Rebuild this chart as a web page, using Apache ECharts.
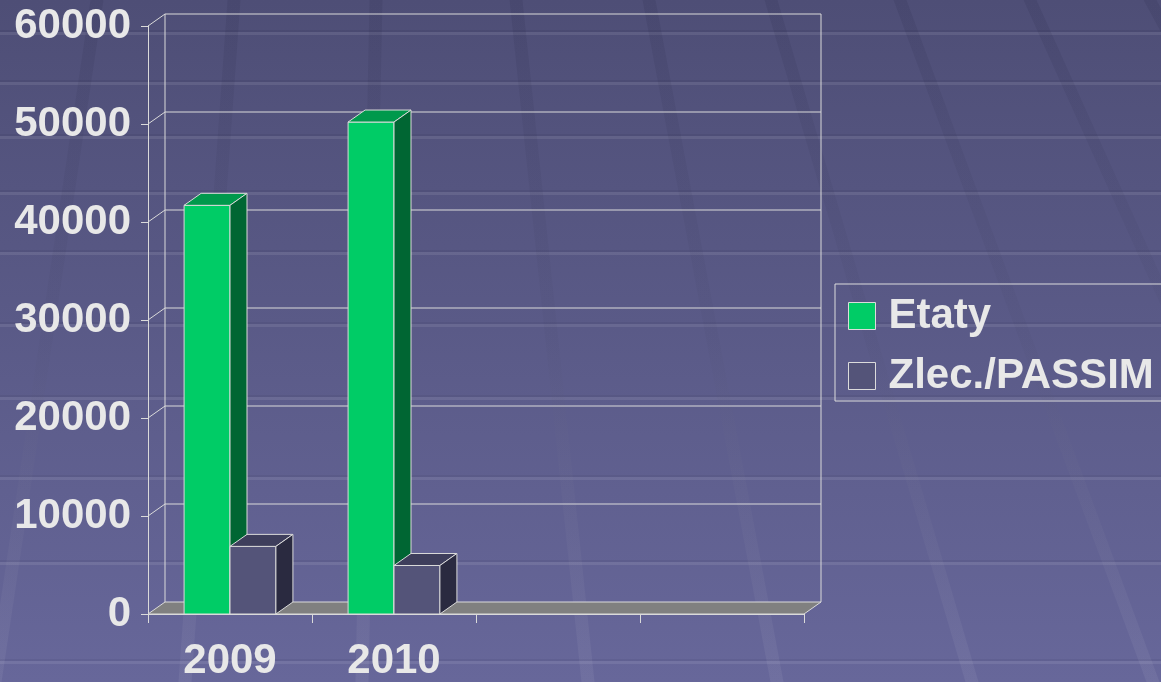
<!DOCTYPE html>
<html>
<head>
<meta charset="utf-8">
<script src="https://cdn.jsdelivr.net/npm/echarts@6/dist/echarts.min.js"></script>
<style>
  html, body { margin: 0; padding: 0; }
  #chart { width: 1161px; height: 682px; }
</style>
</head>
<body>
<div id="chart"></div>
<script>
// ---- data ----
var CATEGORIES = ['2009', '2010', '', ''];
var SERIES_NAMES = ['Etaty', 'Zlec./PASSIM'];
var ETATY = [41700, 50200];
var ZLEC = [6900, 4950];
var Y_MIN = 0, Y_MAX = 60000, Y_INTERVAL = 10000;

// ---- style constants ----
var FONT = "'Liberation Sans', Arial, sans-serif";
var TEXT_COLOR = '#e8e8e8';
var EDGE = '#dadada';
var DX = 17, DY = -12;         // depth offset of the 3D box
var BAR_FRAC = 0.28;           // bar width as a share of the category band
var ETATY_COLORS = { front: '#00cc66', top: '#00994c', side: '#006633' };
var ZLEC_COLORS = { front: '#545479', top: '#3e3e5c', side: '#2a2a40' };

// background decoration (template look)
var STRIPES = [33, 83, 137, 193, 253, 325, 398, 478, 563, 662];
var BANDS = [[97, -5], [234, 185], [376, 362], [516, 588], [649, 777], [771, 972], [900, 1153], [1030, 1337], [1150, 1520]];

var chart = echarts.init(document.getElementById('chart'), null, { renderer: 'canvas' });

function barRenderer(shift, colors) {
  return function (params, api) {
    var cat = api.value(0), val = api.value(1);
    var top = api.coord([cat, val]);
    var base = api.coord([cat, Y_MIN]);
    var bw = api.size([1, 0])[0];
    var w = bw * BAR_FRAC;
    var x0 = top[0] + shift * w;
    var x1 = x0 + w;
    var yT = top[1], yB = base[1];
    var st = function (fill) { return { fill: fill, stroke: EDGE, lineWidth: 1 }; };
    return {
      type: 'group',
      children: [
        { type: 'polygon', shape: { points: [[x0, yB], [x1, yB], [x1, yT], [x0, yT]] }, style: st(colors.front) },
        { type: 'polygon', shape: { points: [[x0, yT], [x1, yT], [x1 + DX, yT + DY], [x0 + DX, yT + DY]] }, style: st(colors.top) },
        { type: 'polygon', shape: { points: [[x1, yB], [x1 + DX, yB + DY], [x1 + DX, yT + DY], [x1, yT]] }, style: st(colors.side) }
      ]
    };
  };
}

function frameRenderer(params, api) {
  var cs = params.coordSys;
  var left = cs.x, right = cs.x + cs.width;
  var children = [];
  var y0 = api.coord([0, Y_MIN])[1];
  var yMax = api.coord([0, Y_MAX])[1];
  var line = { stroke: EDGE, lineWidth: 1, fill: null };
  // floor
  children.push({ type: 'polygon', shape: { points: [[left, y0], [right, y0], [right + DX, y0 + DY], [left + DX, y0 + DY]] },
    style: { fill: '#808080', stroke: EDGE, lineWidth: 1 } });
  // back wall outline
  children.push({ type: 'line', shape: { x1: left + DX, y1: yMax + DY, x2: left + DX, y2: y0 + DY }, style: line });
  children.push({ type: 'line', shape: { x1: right + DX, y1: yMax + DY, x2: right + DX, y2: y0 + DY }, style: line });
  for (var v = Y_MIN + Y_INTERVAL; v <= Y_MAX; v += Y_INTERVAL) {
    var y = api.coord([0, v])[1];
    children.push({ type: 'line', shape: { x1: left + DX, y1: y + DY, x2: right + DX, y2: y + DY }, style: line });
    children.push({ type: 'line', shape: { x1: left, y1: y, x2: left + DX, y2: y + DY }, style: line });
  }
  return { type: 'group', children: children };
}

var graphics = [];
BANDS.forEach(function (b) {
  var hw = 6.5;
  graphics.push({
    type: 'polygon', z: -10, silent: true,
    shape: { points: [[b[0] - hw, 0], [b[0] + hw, 0], [b[1] + hw, 682], [b[1] - hw, 682]] },
    style: { fill: { type: 'linear', x: 0, y: 0, x2: 0, y2: 1, colorStops: [
      { offset: 0, color: 'rgba(20,20,50,0.10)' }, { offset: 0.5, color: 'rgba(60,60,90,0.06)' }, { offset: 1, color: 'rgba(255,255,255,0.06)' }] } }
  });
});
STRIPES.forEach(function (y) {
  graphics.push({ type: 'rect', z: -11, silent: true, shape: { x: 0, y: y - 3, width: 1161, height: 2 }, style: { fill: 'rgba(0,0,20,0.05)' } });
  graphics.push({ type: 'rect', z: -11, silent: true, shape: { x: 0, y: y - 1, width: 1161, height: 3 }, style: { fill: 'rgba(255,255,255,0.09)' } });
});

var option = {
  animation: false,
  backgroundColor: { type: 'linear', x: 0, y: 0, x2: 0, y2: 1, colorStops: [
    { offset: 0, color: '#4e4e76' }, { offset: 1, color: '#67679a' }] },
  graphic: graphics,
  textStyle: { fontFamily: FONT },
  grid: { left: 148, top: 26, width: 656, height: 590, containLabel: false },
  legend: {
    data: SERIES_NAMES,
    orient: 'vertical',
    left: 835, top: 284,
    padding: [11, 40, 4, 13],
    itemGap: 18,
    itemWidth: 27, itemHeight: 27,
    icon: 'rect',
    borderColor: '#dcdcdc', borderWidth: 1,
    itemStyle: { borderColor: '#dcdcdc', borderWidth: 1 },
    textStyle: { color: TEXT_COLOR, fontSize: 42, fontWeight: 'bold', fontFamily: FONT, padding: [0, 0, 0, 8] }
  },
  xAxis: {
    type: 'category',
    data: CATEGORIES,
    boundaryGap: true,
    axisLine: { show: true, lineStyle: { color: EDGE, width: 1 } },
    axisTick: { show: true, length: 9, alignWithLabel: false, lineStyle: { color: EDGE } },
    axisLabel: { color: TEXT_COLOR, fontSize: 42, fontWeight: 'bold', fontFamily: FONT, margin: 26, interval: 0 },
    splitLine: { show: false }
  },
  yAxis: {
    type: 'value',
    min: Y_MIN, max: Y_MAX, interval: Y_INTERVAL,
    axisLine: { show: true, lineStyle: { color: EDGE, width: 1 } },
    axisTick: { show: true, length: 7, lineStyle: { color: EDGE } },
    axisLabel: { color: TEXT_COLOR, fontSize: 42, fontWeight: 'bold', fontFamily: FONT, margin: 17,
      formatter: function (v) { return String(v); } },
    splitLine: { show: false }
  },
  series: [
    {
      type: 'custom', name: '_frame', silent: true, z: 1,
      renderItem: frameRenderer,
      data: [[0, 0]]
    },
    {
      type: 'custom', name: SERIES_NAMES[0], z: 3,
      itemStyle: { color: ETATY_COLORS.front },
      renderItem: barRenderer(-1, ETATY_COLORS),
      encode: { x: 0, y: 1 },
      data: ETATY.map(function (v, i) { return [i, v]; })
    },
    {
      type: 'custom', name: SERIES_NAMES[1], z: 4,
      itemStyle: { color: ZLEC_COLORS.front },
      renderItem: barRenderer(0, ZLEC_COLORS),
      encode: { x: 0, y: 1 },
      data: ZLEC.map(function (v, i) { return [i, v]; })
    }
  ]
};
chart.setOption(option);
</script>
</body>
</html>
